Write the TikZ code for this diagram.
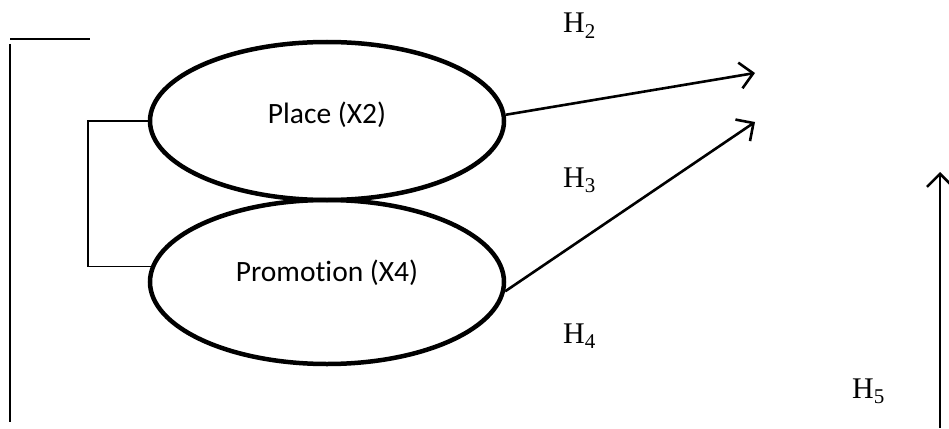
\documentclass[tikz,border=0pt]{standalone}
\usepackage{fontspec}
\setmainfont{Liberation Serif}
\newfontfamily\bodyfont[Ligatures=NoCommon]{Carlito}
\usetikzlibrary{shapes.geometric,arrows.meta}

\tikzset{
  oval/.style={draw, ellipse, line width=4.5pt, inner sep=0pt,
               minimum width=354pt, minimum height=158pt},
  ovaltext/.style={font=\bodyfont\fontsize{29.5}{35}\selectfont, inner sep=0pt, anchor=base},
  hyp/.style={font=\fontsize{30}{36}\selectfont, inner sep=0pt, anchor=base west},
  link/.style={line width=2.6pt, -{Straight Barb[length=13pt,width=26pt,line width=2.6pt]}},
  joint/.style={line width=1.6pt},
  frame/.style={line width=2.2pt}
}

\begin{document}
\begin{tikzpicture}[x=1pt,y=-1pt]
  \useasboundingbox (0,0) rectangle (949,428);

  % construct ellipses
  \node[oval] (place) at (327,121) {};
  \node[oval, minimum height=164pt] (promo) at (327,282) {};
  \node[ovaltext] at (327,123) {Place (X2)};
  \node[ovaltext] at (327,281) {Promotion (X4)};

  % correlation bracket between the two constructs
  \draw[joint] (place.west) -- ++(-60,0) |- (promo.175);

  % left frame lines
  \coordinate (ftl) at (10,39);
  \coordinate (ftr) at (90,39);
  \coordinate (fvt) at (10,44);
  \coordinate (fvb) at (10,422);
  \draw[frame] (ftl) -- (ftr);
  \draw[frame] (fvt) -- (fvb);

  % hypothesis paths
  \coordinate (t2) at (755,73);
  \coordinate (t3) at (755,122);
  \coordinate (v5b) at (940,428);
  \coordinate (v5t) at (940,172);
  \draw[link] (place.2) -- (t2);
  \draw[link] (promo.-3) -- (t3);
  \draw[link] (v5b) -- (v5t);

  % hypothesis labels
  \node[hyp] (h2) at (563,33) {H\textsubscript{2}};
  \node[hyp] (h3) at (563,187) {H\textsubscript{3}};
  \node[hyp] (h4) at (563,343) {H\textsubscript{4}};
  \node[hyp] (h5) at (852,398) {H\textsubscript{5}};
\end{tikzpicture}
\end{document}
